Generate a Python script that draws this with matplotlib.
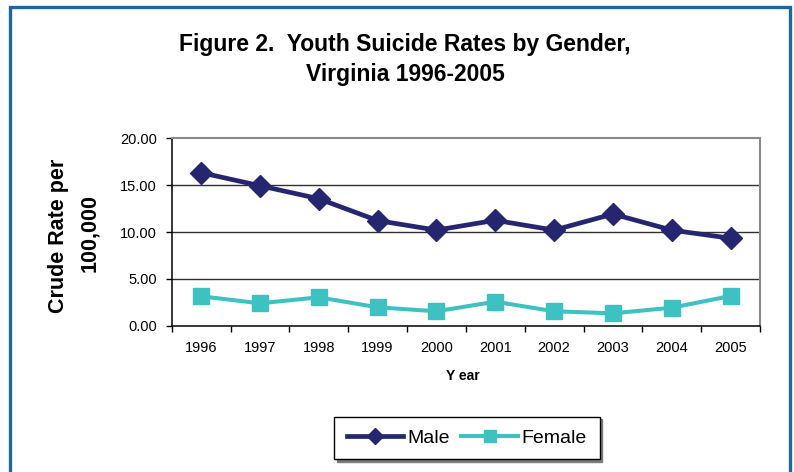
# Youth suicide crude rates by gender, Virginia 1996-2005

import matplotlib.pyplot as plt
from matplotlib.patches import Rectangle

years = ['1996', '1997', '1998', '1999', '2000', '2001', '2002', '2003', '2004', '2005']
male = [16.33, 14.94, 13.55, 11.22, 10.20, 11.25, 10.20, 11.92, 10.20, 9.33]
female = [3.14, 2.39, 3.03, 1.96, 1.54, 2.56, 1.54, 1.32, 1.92, 3.17]
yticks = [0, 5, 10, 15, 20]

W, H = 794, 472
plt.rcParams['font.family'] = ['Liberation Sans', 'DejaVu Sans']

fig = plt.figure(figsize=(W / 100, H / 100), dpi=100)
fig.patch.set_facecolor('white')

# blue frame round the figure (bottom edge runs off the page)
fig.patches.append(Rectangle((9.5 / W, -0.05), 780 / W, 1.05 - 6.5 / H,
                             transform=fig.transFigure, fill=False,
                             edgecolor='#1f669c', linewidth=2.4))

left, right, top, bottom = 171.7, 760, 138.3, 325.7
ax = fig.add_axes([left / W, 1 - bottom / H, (right - left) / W, (bottom - top) / H])

x = list(range(len(years)))
ax.plot(x, male, color='#262670', linewidth=3.4, marker='D', markersize=11.5,
        label='Male', zorder=4)
ax.plot(x, female, color='#3ec1c1', linewidth=2.9, marker='s', markersize=12,
        label='Female', zorder=3)

ax.set_xlim(-0.5, len(years) - 0.5)
ax.set_ylim(0, 20)

ax.set_yticks(yticks)
ax.set_yticklabels([f'{v:.2f}' for v in yticks], fontsize=10.5)
for v in yticks[1:-1]:
    ax.axhline(v, color='#303030', linewidth=1.0, zorder=1)

# boundary ticks between categories, labels centred under each year
ax.set_xticks([i - 0.5 for i in range(len(years) + 1)])
ax.set_xticklabels([])
ax.set_xticks(x, minor=True)
ax.set_xticklabels(years, minor=True, fontsize=10.5)
ax.tick_params(axis='x', which='minor', length=0, pad=11)
ax.tick_params(axis='both', which='major', direction='out', length=4, width=1, color='black')
ax.tick_params(axis='y', pad=6.5)

for side in ('left', 'bottom'):
    ax.spines[side].set_color('black')
    ax.spines[side].set_linewidth(1.1)
for side in ('top', 'right'):
    ax.spines[side].set_color('#8a8a8a')
    ax.spines[side].set_linewidth(1.5)

fig.text(405 / W, 1 - 45 / H, 'Figure 2.  Youth Suicide Rates by Gender,',
         ha='center', va='center', fontsize=16.5, fontweight='bold')
fig.text(405 / W, 1 - 75 / H, 'Virginia 1996-2005',
         ha='center', va='center', fontsize=16.5, fontweight='bold')
fig.text(58.5 / W, 1 - 236 / H, 'Crude Rate per', rotation=90,
         ha='center', va='center', fontsize=15.5, fontweight='bold')
fig.text(89.5 / W, 1 - 233 / H, '100,000', rotation=90,
         ha='center', va='center', fontsize=15.5, fontweight='bold')
fig.text(463 / W, 1 - 376 / H, 'Y ear', ha='center', va='center',
         fontsize=10, fontweight='bold')

leg = fig.legend(loc='center', bbox_to_anchor=(467 / W, 1 - 438 / H), ncol=2,
                 fancybox=False, edgecolor='black', framealpha=1,
                 shadow={'color': '#7a7a7a', 'alpha': 1},
                 prop={'family': ['Liberation Sans Narrow', 'Liberation Sans'], 'size': 14},
                 handlelength=2.9, handletextpad=0.2, columnspacing=0.6,
                 borderpad=0.65, markerscale=0.75)
leg.get_frame().set_linewidth(1.0)

fig.savefig('out.png', dpi=100)
